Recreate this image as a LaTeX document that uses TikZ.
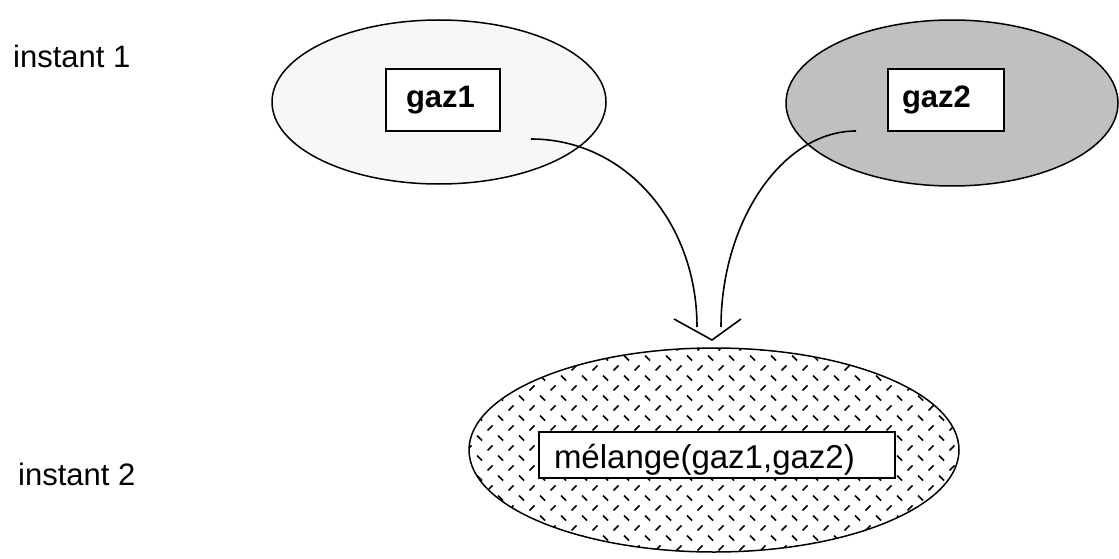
\documentclass[tikz,border=0pt]{standalone}
\usepackage{fontspec}
\setmainfont{Liberation Sans}
\usetikzlibrary{shapes.geometric}
\definecolor{lightgas}{HTML}{F7F7F7}
\definecolor{darkgas}{HTML}{C0C0C0}
\tikzset{
  gasell/.style={ellipse, draw=black, line width=1.5pt, inner sep=0pt},
  namebox/.style={draw=black, fill=white, line width=1.5pt, inner ysep=0pt, align=left,
    font=\fontsize{31}{37}\selectfont},
  plaintext/.style={inner sep=0pt, font=\fontsize{31}{37}\selectfont},
  flow/.style={line width=1.6pt},
  hatch/.style={line width=1.6pt}
}
\begin{document}
\begin{tikzpicture}[x=1pt, y=-1pt]
\useasboundingbox (0,0) rectangle (1119,559);
% labels
\node[plaintext, anchor=base west] (i1) at (13,68) {instant 1};
\node[plaintext, anchor=base west] (i2) at (18,485) {instant 2};
% gas 1
\node[gasell, fill=lightgas, minimum width=334pt, minimum height=164pt] (e1) at (439,102) {};
\node[namebox, minimum height=62pt, inner xsep=20pt, text width=74pt] (g1) at (443,100) {\bfseries gaz1};
% gas 2
\node[gasell, fill=darkgas, minimum width=332pt, minimum height=166pt] (e2) at (952,103) {};
\node[namebox, minimum height=62pt, inner xsep=14pt, text width=88pt] (g2) at (946,100) {\bfseries gaz2};
% mixture
\node[ellipse, inner sep=0pt, minimum width=490pt, minimum height=204pt] (e3) at (714,450) {};
\begin{scope}
  \clip (e3.center) ellipse [x radius=245, y radius=102];
  \foreach \i in {0,...,24} {
    \foreach \j in {0,...,10} {
      \pgfmathsetmacro{\px}{469+\i*21}
      \pgfmathsetmacro{\py}{348+\j*20}
      \draw[hatch] (\px-2.5,\py+2.5) -- (\px+2.5,\py-2.5);
      \draw[hatch] (\px+10.5-2.5,\py+10-2.5) -- (\px+10.5+2.5,\py+10+2.5);
    }
  }
\end{scope}
\draw[line width=1.5pt] (e3.center) ellipse [x radius=245, y radius=102];
\node[namebox, font=\fontsize{33}{40}\selectfont, minimum height=46pt, inner xsep=15pt,
      text width=326pt, text height=26pt, text depth=0pt] (m) at (717,455) {m\'elange(gaz1,gaz2)};
% connectors
\coordinate (s1) at (531,139);
\coordinate (t1) at (697,327);
\coordinate (s2) at (856,131);
\coordinate (t2) at (721,327);
\draw[flow] (s1) .. controls (625,139) and (697,222) .. (t1);
\draw[flow] (s2) .. controls (782,131) and (721,222) .. (t2);
% arrow head
\coordinate (al) at (674,319);
\coordinate (tip) at (712,340);
\coordinate (ar) at (741,319);
\draw[flow] (al) -- (tip) -- (ar);
\end{tikzpicture}
\end{document}
